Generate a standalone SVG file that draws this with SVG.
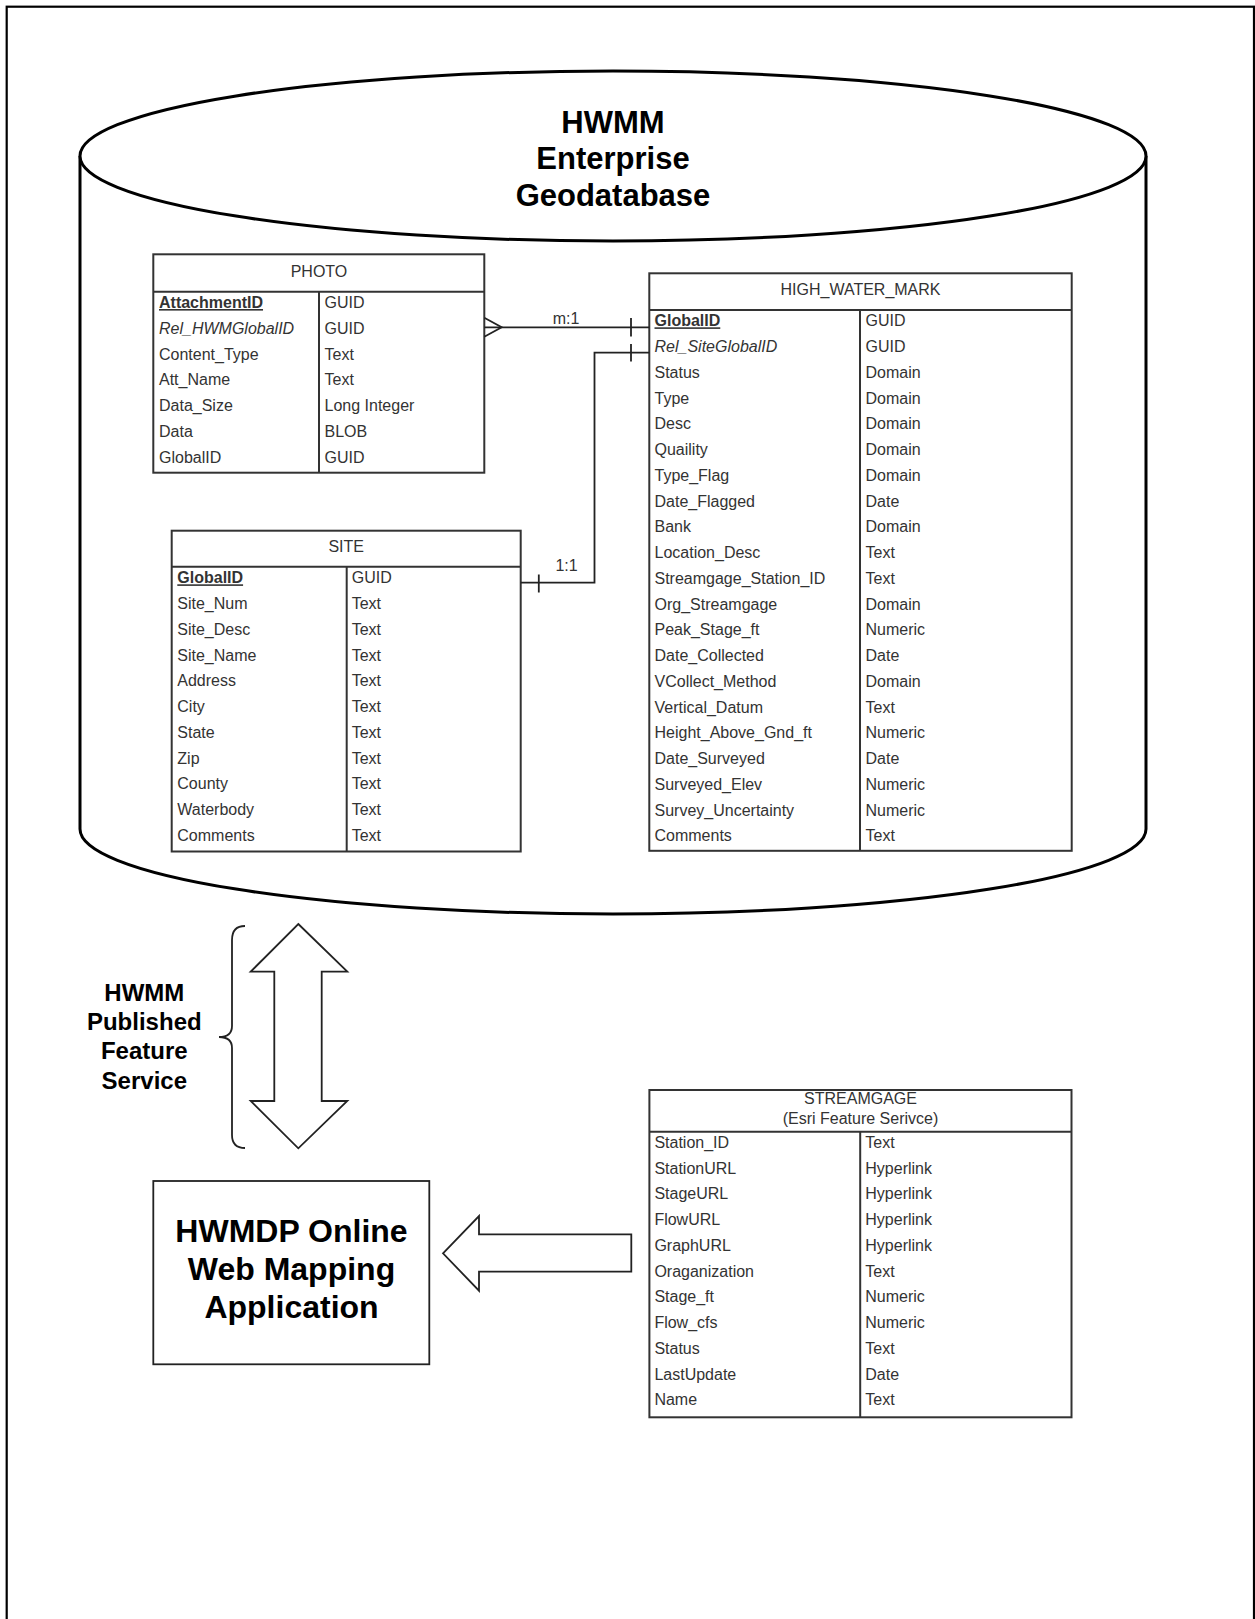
<svg xmlns="http://www.w3.org/2000/svg" width="1255" height="1619" viewBox="0 0 1255 1619">
<defs>
<style>
.frame{fill:none;stroke:#000;stroke-width:2.2}
.cyl{fill:#fff;stroke:#000;stroke-width:3}
.tbl{fill:#fff;stroke:#333;stroke-width:2}
.ln{fill:none;stroke:#333;stroke-width:2}
.t{font-family:"Liberation Sans",Arial,sans-serif;font-size:16px;fill:#333}
.c{text-anchor:middle}
.key{font-weight:bold;text-decoration:underline}
.fk{font-style:italic}
.big{font-family:"Liberation Sans",Arial,sans-serif;font-weight:bold;fill:#000;text-anchor:middle}
.conn{fill:none;stroke:#222;stroke-width:1.8}
.shape{fill:#fff;stroke:#222;stroke-width:1.8}
</style>
</defs>
<rect x="0" y="0" width="1255" height="1619" fill="#fff"/>
<rect class="frame" x="6.7" y="6.7" width="1247.3" height="1640"/>

<g id="geodatabase">
<path class="cyl" d="M80,156 L80,829 A533,85 0 0 0 1146,829 L1146,156"/>
<ellipse class="cyl" cx="613" cy="156" rx="533" ry="85"/>
<text class="big" font-size="31"><tspan x="613" y="133">HWMM</tspan><tspan x="613" y="169">Enterprise</tspan><tspan x="613" y="206">Geodatabase</tspan></text>
</g>

<g id="photo">
<rect class="tbl" x="153.3" y="254.3" width="331" height="218.4"/>
<line class="ln" x1="153.3" y1="291.7" x2="484.3" y2="291.7"/>
<line class="ln" x1="319" y1="291.7" x2="319" y2="472.7"/>
<text class="t c" x="319" y="277">PHOTO</text>
<g class="t">
<text x="159" y="308" class="key">AttachmentID</text><text x="324.5" y="308">GUID</text>
<text x="159" y="333.8" class="fk">Rel_HWMGlobalID</text><text x="324.5" y="333.8">GUID</text>
<text x="159" y="359.6">Content_Type</text><text x="324.5" y="359.6">Text</text>
<text x="159" y="385.4">Att_Name</text><text x="324.5" y="385.4">Text</text>
<text x="159" y="411.2">Data_Size</text><text x="324.5" y="411.2">Long Integer</text>
<text x="159" y="437">Data</text><text x="324.5" y="437">BLOB</text>
<text x="159" y="462.8">GlobalID</text><text x="324.5" y="462.8">GUID</text>
</g>
</g>

<g id="high_water_mark">
<rect class="tbl" x="649.3" y="273.3" width="422.4" height="577.5"/>
<line class="ln" x1="649.3" y1="310" x2="1071.7" y2="310"/>
<line class="ln" x1="860" y1="310" x2="860" y2="850.8"/>
<text class="t c" x="860.5" y="295">HIGH_WATER_MARK</text>
<g class="t">
<text x="654.5" y="326.3" class="key">GlobalID</text><text x="865.5" y="326.3">GUID</text>
<text x="654.5" y="352" class="fk">Rel_SiteGlobalID</text><text x="865.5" y="352">GUID</text>
<text x="654.5" y="377.8">Status</text><text x="865.5" y="377.8">Domain</text>
<text x="654.5" y="403.5">Type</text><text x="865.5" y="403.5">Domain</text>
<text x="654.5" y="429.3">Desc</text><text x="865.5" y="429.3">Domain</text>
<text x="654.5" y="455">Quaility</text><text x="865.5" y="455">Domain</text>
<text x="654.5" y="480.8">Type_Flag</text><text x="865.5" y="480.8">Domain</text>
<text x="654.5" y="506.5">Date_Flagged</text><text x="865.5" y="506.5">Date</text>
<text x="654.5" y="532.3">Bank</text><text x="865.5" y="532.3">Domain</text>
<text x="654.5" y="558">Location_Desc</text><text x="865.5" y="558">Text</text>
<text x="654.5" y="583.8">Streamgage_Station_ID</text><text x="865.5" y="583.8">Text</text>
<text x="654.5" y="609.5">Org_Streamgage</text><text x="865.5" y="609.5">Domain</text>
<text x="654.5" y="635.3">Peak_Stage_ft</text><text x="865.5" y="635.3">Numeric</text>
<text x="654.5" y="661">Date_Collected</text><text x="865.5" y="661">Date</text>
<text x="654.5" y="686.8">VCollect_Method</text><text x="865.5" y="686.8">Domain</text>
<text x="654.5" y="712.5">Vertical_Datum</text><text x="865.5" y="712.5">Text</text>
<text x="654.5" y="738.3">Height_Above_Gnd_ft</text><text x="865.5" y="738.3">Numeric</text>
<text x="654.5" y="764">Date_Surveyed</text><text x="865.5" y="764">Date</text>
<text x="654.5" y="789.8">Surveyed_Elev</text><text x="865.5" y="789.8">Numeric</text>
<text x="654.5" y="815.5">Survey_Uncertainty</text><text x="865.5" y="815.5">Numeric</text>
<text x="654.5" y="841.3">Comments</text><text x="865.5" y="841.3">Text</text>
</g>
</g>

<g id="site">
<rect class="tbl" x="171.7" y="530.7" width="349" height="320.8"/>
<line class="ln" x1="171.7" y1="566.7" x2="520.7" y2="566.7"/>
<line class="ln" x1="346.7" y1="566.7" x2="346.7" y2="851.5"/>
<text class="t c" x="346.2" y="552">SITE</text>
<g class="t">
<text x="177.3" y="583.3" class="key">GlobalID</text><text x="351.7" y="583.3">GUID</text>
<text x="177.3" y="609">Site_Num</text><text x="351.7" y="609">Text</text>
<text x="177.3" y="634.8">Site_Desc</text><text x="351.7" y="634.8">Text</text>
<text x="177.3" y="660.5">Site_Name</text><text x="351.7" y="660.5">Text</text>
<text x="177.3" y="686.3">Address</text><text x="351.7" y="686.3">Text</text>
<text x="177.3" y="712">City</text><text x="351.7" y="712">Text</text>
<text x="177.3" y="737.8">State</text><text x="351.7" y="737.8">Text</text>
<text x="177.3" y="763.5">Zip</text><text x="351.7" y="763.5">Text</text>
<text x="177.3" y="789.3">County</text><text x="351.7" y="789.3">Text</text>
<text x="177.3" y="815">Waterbody</text><text x="351.7" y="815">Text</text>
<text x="177.3" y="840.8">Comments</text><text x="351.7" y="840.8">Text</text>
</g>
</g>

<g id="streamgage">
<rect class="tbl" x="649.4" y="1090" width="422.1" height="327.3"/>
<line class="ln" x1="649.4" y1="1131.7" x2="1071.5" y2="1131.7"/>
<line class="ln" x1="860.2" y1="1131.7" x2="860.2" y2="1417.3"/>
<text class="t c"><tspan x="860.5" y="1104">STREAMGAGE</tspan><tspan x="860.5" y="1124">(Esri Feature Serivce)</tspan></text>
<g class="t">
<text x="654.4" y="1147.7">Station_ID</text><text x="865.3" y="1147.7">Text</text>
<text x="654.4" y="1173.5">StationURL</text><text x="865.3" y="1173.5">Hyperlink</text>
<text x="654.4" y="1199.3">StageURL</text><text x="865.3" y="1199.3">Hyperlink</text>
<text x="654.4" y="1225">FlowURL</text><text x="865.3" y="1225">Hyperlink</text>
<text x="654.4" y="1250.8">GraphURL</text><text x="865.3" y="1250.8">Hyperlink</text>
<text x="654.4" y="1276.5">Oraganization</text><text x="865.3" y="1276.5">Text</text>
<text x="654.4" y="1302.3">Stage_ft</text><text x="865.3" y="1302.3">Numeric</text>
<text x="654.4" y="1328">Flow_cfs</text><text x="865.3" y="1328">Numeric</text>
<text x="654.4" y="1353.8">Status</text><text x="865.3" y="1353.8">Text</text>
<text x="654.4" y="1379.5">LastUpdate</text><text x="865.3" y="1379.5">Date</text>
<text x="654.4" y="1405.3">Name</text><text x="865.3" y="1405.3">Text</text>
</g>
</g>

<g id="hwmdp_app">
<rect class="shape" x="153.3" y="1181" width="276" height="183.3"/>
<text class="big" font-size="32"><tspan x="291.5" y="1241.7">HWMDP Online</tspan><tspan x="291.5" y="1280">Web Mapping</tspan><tspan x="291.5" y="1318.3">Application</tspan></text>
</g>

<g id="feature_service">
<path class="conn" d="M245,926 Q232,926 232,940 L232,1026 Q232,1037 219,1037 Q232,1037 232,1048 L232,1135 Q232,1148 245,1148"/>
<text class="big" font-size="24"><tspan x="144.3" y="1001">HWMM</tspan><tspan x="144.3" y="1030">Published</tspan><tspan x="144.3" y="1059.3">Feature</tspan><tspan x="144.3" y="1089">Service</tspan></text>
</g>

<g id="connectors">
<path class="conn" d="M484.3,327.3 L649.3,327.3"/>
<path class="conn" d="M484.3,317.7 L501.7,327.3 L484.3,336.7"/>
<path class="conn" d="M631,318 L631,336.5"/>
<text class="t c" x="566" y="324" font-size="15">m:1</text>
<path class="conn" d="M649.3,352.7 L594.5,352.7 L594.5,582.7 L520.7,582.7"/>
<path class="conn" d="M631,344 L631,361.5"/>
<path class="conn" d="M538.8,574.5 L538.8,592.5"/>
<text class="t c" x="566.5" y="571" font-size="15">1:1</text>
<polygon class="shape" points="298.3,924 347.3,971.7 321.7,971.7 321.7,1101 347.3,1101 298.3,1148.3 250.7,1101 274.3,1101 274.3,971.7 250.7,971.7"/>
<polygon class="shape" points="443,1253.3 479,1216 479,1234.3 631.3,1234.3 631.3,1271.7 479,1271.7 479,1290.7"/>
</g>
</svg>
